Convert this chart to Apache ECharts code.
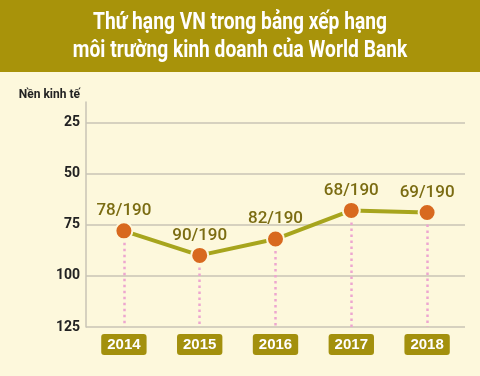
<!DOCTYPE html>
<html>
<head>
<meta charset="utf-8">
<script src="https://cdn.jsdelivr.net/npm/echarts@6/dist/echarts.min.js"></script>
<style>
  html, body { margin: 0; padding: 0; background: #fdf8dc; }
  #chart { width: 480px; height: 376px; }
</style>
</head>
<body>
<div id="chart"></div>
<script>
var years = ['2014', '2015', '2016', '2017', '2018'];
var ranks = [78, 90, 82, 68, 69];
var totals = [190, 190, 190, 190, 190];
var yTicks = [25, 50, 75, 100, 125];
var titleLines = ['Thứ hạng VN trong bảng xếp hạng', 'môi trường kinh doanh của World Bank'];
var yName = 'Nền kinh tế';

var font = 'Roboto, "Liberation Sans", sans-serif';
var gridGrey = '#c9c5b6';

var chart = echarts.init(document.getElementById('chart'));
chart.setOption({
  backgroundColor: '#fdf8dc',
  animation: false,
  graphic: [
    {
      type: 'rect',
      left: 0,
      top: 0,
      z: -1,
      shape: { width: 480, height: 72 },
      style: { fill: '#a8930a' }
    },
    {
      // condensed look: the narrow face of the original is not installed
      type: 'text',
      x: 240,
      y: 9,
      scaleX: 0.8,
      style: {
        text: titleLines.join('\n'),
        fill: '#fff',
        font: 'bold 24px ' + font,
        textAlign: 'center',
        textVerticalAlign: 'top',
        lineHeight: 28
      }
    }
  ],
  grid: { left: 86, right: 15, top: 102, bottom: 49 },
  xAxis: {
    type: 'category',
    data: years,
    axisLine: { show: false },
    axisTick: { show: false },
    axisLabel: {
      margin: 7,
      color: '#fff',
      fontFamily: '"Liberation Sans", Arial, sans-serif',
      fontWeight: 'bold',
      fontSize: 15,
      backgroundColor: '#a3900d',
      borderRadius: 3,
      padding: [3, 6, 3, 6]
    }
  },
  yAxis: {
    type: 'value',
    inverse: true,
    min: 15,
    max: 125,
    name: yName,
    nameLocation: 'start',
    nameGap: 1,
    nameTextStyle: {
      color: '#222',
      fontFamily: font,
      fontWeight: 'bold',
      fontSize: 12,
      align: 'right',
      padding: [0, 6, 0, 0]
    },
    axisLine: { show: true, lineStyle: { color: gridGrey, width: 1.5 } },
    axisTick: { show: false, customValues: yTicks },
    axisLabel: {
      margin: 6,
      color: '#222',
      fontFamily: font,
      fontWeight: 'bold',
      fontSize: 14,
      customValues: yTicks
    },
    splitLine: { lineStyle: { color: gridGrey, width: 1.5 } }
  },
  series: [
    {
      type: 'line',
      data: ranks,
      symbol: 'circle',
      symbolSize: 17,
      lineStyle: { color: '#a7a51d', width: 4 },
      itemStyle: { color: '#d8691f', borderColor: '#fdf8dc', borderWidth: 2 },
      label: {
        show: true,
        position: 'top',
        distance: 2,
        color: '#7b6c12',
        fontFamily: font,
        fontWeight: 500,
        fontSize: 17,
        formatter: function (p) { return p.value + '/' + totals[p.dataIndex]; }
      },
      markLine: {
        silent: true,
        z: 1,
        symbol: 'none',
        label: { show: false },
        emphasis: { disabled: true },
        lineStyle: { color: '#eda6cf', width: 2.5, type: [2.5, 3.5] },
        data: ranks.map(function (v, i) {
          return [{ coord: [i, v] }, { coord: [i, 125] }];
        })
      }
    }
  ]
});
</script>
</body>
</html>
